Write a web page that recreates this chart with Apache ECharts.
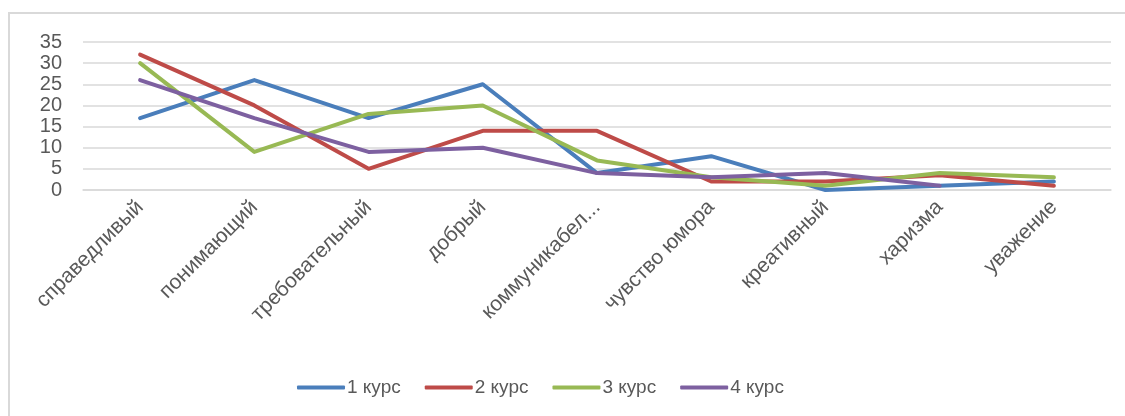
<!DOCTYPE html>
<html>
<head>
<meta charset="utf-8">
<script src="https://cdn.jsdelivr.net/npm/echarts@6/dist/echarts.min.js"></script>
<style>
html,body{margin:0;padding:0;background:#fff;}
#c{width:1125px;height:416px;}
</style>
</head>
<body>
<div id="c"></div>
<script>
const categories = ["справедливый","понимающий","требовательный","добрый","коммуникабел...","чувство юмора","креативный","харизма","уважение"];
const seriesNames = ["1 курс","2 курс","3 курс","4 курс"];
const kurs1 = [17, 26, 17, 25, 4, 8, 0, 1, 2];
const kurs2 = [32, 20, 5, 14, 14, 2, 2, 3.5, 1];
const kurs3 = [30, 9, 18, 20, 7, 3, 1, 4, 3];
const kurs4 = [26, 17, 9, 10, 4, 3, 4, 1, null];
const yTicks = [0, 5, 10, 15, 20, 25, 30, 35];
const colors = ["#4A7EBB", "#BE4B48", "#98B954", "#7D60A0"];

const chart = echarts.init(document.getElementById('c'), null, {renderer: 'canvas'});
const fontFamily = "'Liberation Sans', 'DejaVu Sans', sans-serif";
const allData = [kurs1, kurs2, kurs3, kurs4];
chart.setOption({
  animation: false,
  backgroundColor: '#fff',
  graphic: [{
    type: 'rect',
    shape: {x: 9, y: 13, width: 1200, height: 500},
    style: {fill: 'none', stroke: '#D9D9D9', lineWidth: 2},
    silent: true, z: 0
  }],
  color: colors,
  grid: {left: 83, right: 14, top: 42, bottom: 226, containLabel: false},
  legend: {
    data: seriesNames,
    left: 292,
    top: 373,
    icon: 'roundRect',
    itemWidth: 48,
    itemHeight: 4,
    itemGap: 24,
    textStyle: {color: '#595959', fontSize: 19, fontFamily: fontFamily, padding: [0,0,0,-3]}
  },
  xAxis: {
    type: 'category',
    data: categories,
    boundaryGap: true,
    axisLine: {show: true, lineStyle: {color: '#D9D9D9', width: 1.5}},
    axisTick: {show: false},
    axisLabel: {
      interval: 0,
      rotate: 45,
      margin: 14,
      color: '#595959',
      fontSize: 21,
      fontFamily: fontFamily
    }
  },
  yAxis: {
    type: 'value',
    min: yTicks[0],
    max: yTicks[yTicks.length - 1],
    interval: 5,
    axisLine: {show: false},
    axisTick: {show: false},
    splitLine: {lineStyle: {color: '#D9D9D9', width: 1.5}},
    axisLabel: {color: '#595959', fontSize: 20, fontFamily: fontFamily, margin: 21}
  },
  series: seriesNames.map((n, i) => ({
    name: n,
    type: 'line',
    data: allData[i],
    showSymbol: false,
    symbol: 'none',
    lineStyle: {width: 4, color: colors[i], cap: 'round', join: 'round'},
    itemStyle: {color: colors[i]}
  }))
});
</script>
</body>
</html>
